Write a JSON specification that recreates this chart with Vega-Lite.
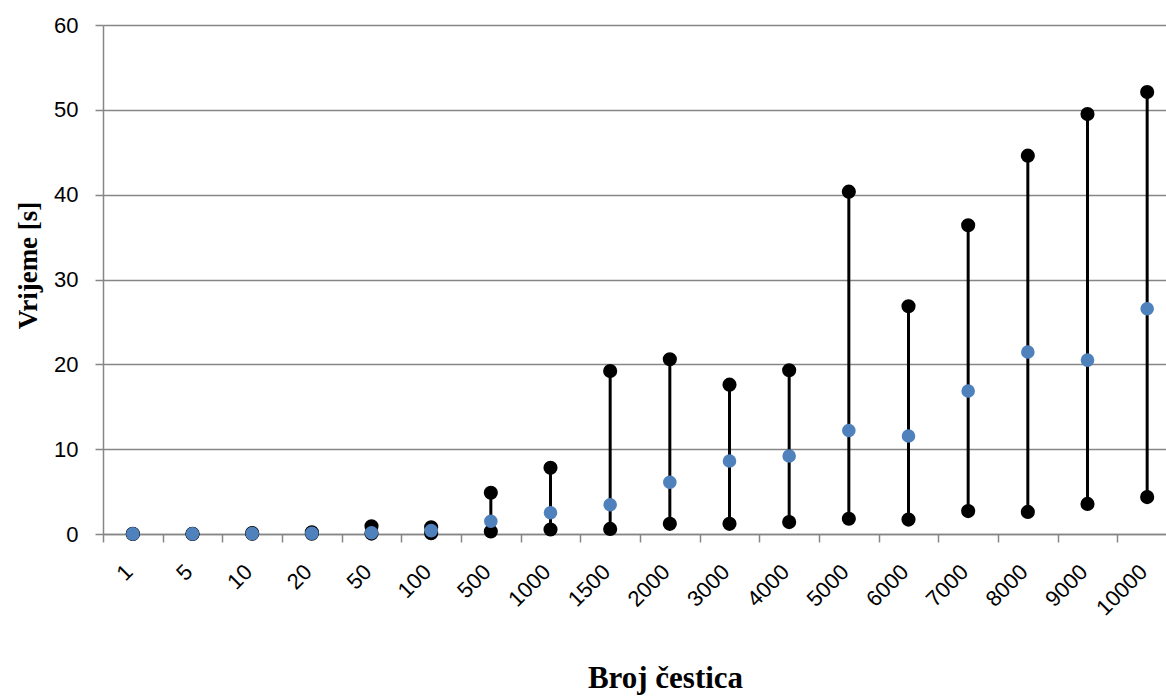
{
  "$schema": "https://vega.github.io/schema/vega-lite/v6.json",
  "autosize": {"type": "none"},
  "padding": {"left": 103, "top": 25, "right": 0, "bottom": 163},
  "width": 1074,
  "height": 509,
  "background": "white",
  "config": {
    "view": {"stroke": null},
    "axis": {
      "labelFont": "Liberation Sans",
      "labelColor": "black",
      "titleFont": "Liberation Serif",
      "titleFontWeight": "bold",
      "titleColor": "black",
      "domainColor": "#868686",
      "domainWidth": 1.5,
      "tickColor": "#868686",
      "tickWidth": 1.5,
      "tickSize": 8,
      "gridColor": "#868686",
      "gridWidth": 1.5
    }
  },
  "data": {
    "values": [
      {"n": "1", "min": 0, "max": 0.02, "avg": 0.01},
      {"n": "5", "min": 0, "max": 0.03, "avg": 0.02},
      {"n": "10", "min": 0.02, "max": 0.12, "avg": 0.05},
      {"n": "20", "min": 0.03, "max": 0.2, "avg": 0.08},
      {"n": "50", "min": 0.05, "max": 0.9, "avg": 0.15},
      {"n": "100", "min": 0.1, "max": 0.8, "avg": 0.4},
      {"n": "500", "min": 0.3, "max": 4.86, "avg": 1.5},
      {"n": "1000", "min": 0.53, "max": 7.8, "avg": 2.5},
      {"n": "1500", "min": 0.6, "max": 19.2, "avg": 3.45},
      {"n": "2000", "min": 1.2, "max": 20.6, "avg": 6.1},
      {"n": "3000", "min": 1.2, "max": 17.6, "avg": 8.6},
      {"n": "4000", "min": 1.4, "max": 19.3, "avg": 9.2},
      {"n": "5000", "min": 1.8, "max": 40.35, "avg": 12.2},
      {"n": "6000", "min": 1.7, "max": 26.85, "avg": 11.55},
      {"n": "7000", "min": 2.7, "max": 36.4, "avg": 16.85},
      {"n": "8000", "min": 2.6, "max": 44.6, "avg": 21.45},
      {"n": "9000", "min": 3.55, "max": 49.5, "avg": 20.5},
      {"n": "10000", "min": 4.35, "max": 52.1, "avg": 26.55}
    ]
  },
  "encoding": {
    "x": {
      "field": "n",
      "type": "ordinal",
      "sort": null,
      "scale": {"paddingInner": 0, "paddingOuter": 0},
      "axis": {
        "title": "Broj čestica",
        "titleFontSize": 31,
        "labelFontSize": 22,
        "labelAngle": -45,
        "labelAlign": "right",
        "labelBaseline": "middle",
        "labelPadding": 26,
        "labelOffset": -4,
        "tickBand": "extent",
        "titleX": 562,
        "titleY": 153,
        "titleBaseline": "alphabetic",
        "titleAnchor": "middle",
        "titleAlign": "center"
      }
    }
  },
  "layer": [
    {
      "mark": {"type": "rule", "color": "black", "strokeWidth": 3},
      "encoding": {
        "y": {
          "field": "min",
          "type": "quantitative",
          "scale": {"domain": [0, 60], "nice": false},
          "axis": {
            "title": "Vrijeme [s]",
            "titleFontSize": 27,
            "labelFontSize": 22,
            "values": [0, 10, 20, 30, 40, 50, 60],
            "grid": true,
            "labelPadding": 17,
            "titleX": -74.5,
            "titleY": 240,
            "titleBaseline": "middle",
            "titleAlign": "center",
            "titleAngle": -90
          }
        },
        "y2": {"field": "max"}
      }
    },
    {
      "mark": {"type": "circle", "color": "black", "opacity": 1, "size": 200},
      "encoding": {"y": {"field": "min", "type": "quantitative"}}
    },
    {
      "mark": {"type": "circle", "color": "black", "opacity": 1, "size": 200},
      "encoding": {"y": {"field": "max", "type": "quantitative"}}
    },
    {
      "mark": {"type": "circle", "color": "#4F81BD", "opacity": 1, "size": 185},
      "encoding": {"y": {"field": "avg", "type": "quantitative"}}
    }
  ]
}
